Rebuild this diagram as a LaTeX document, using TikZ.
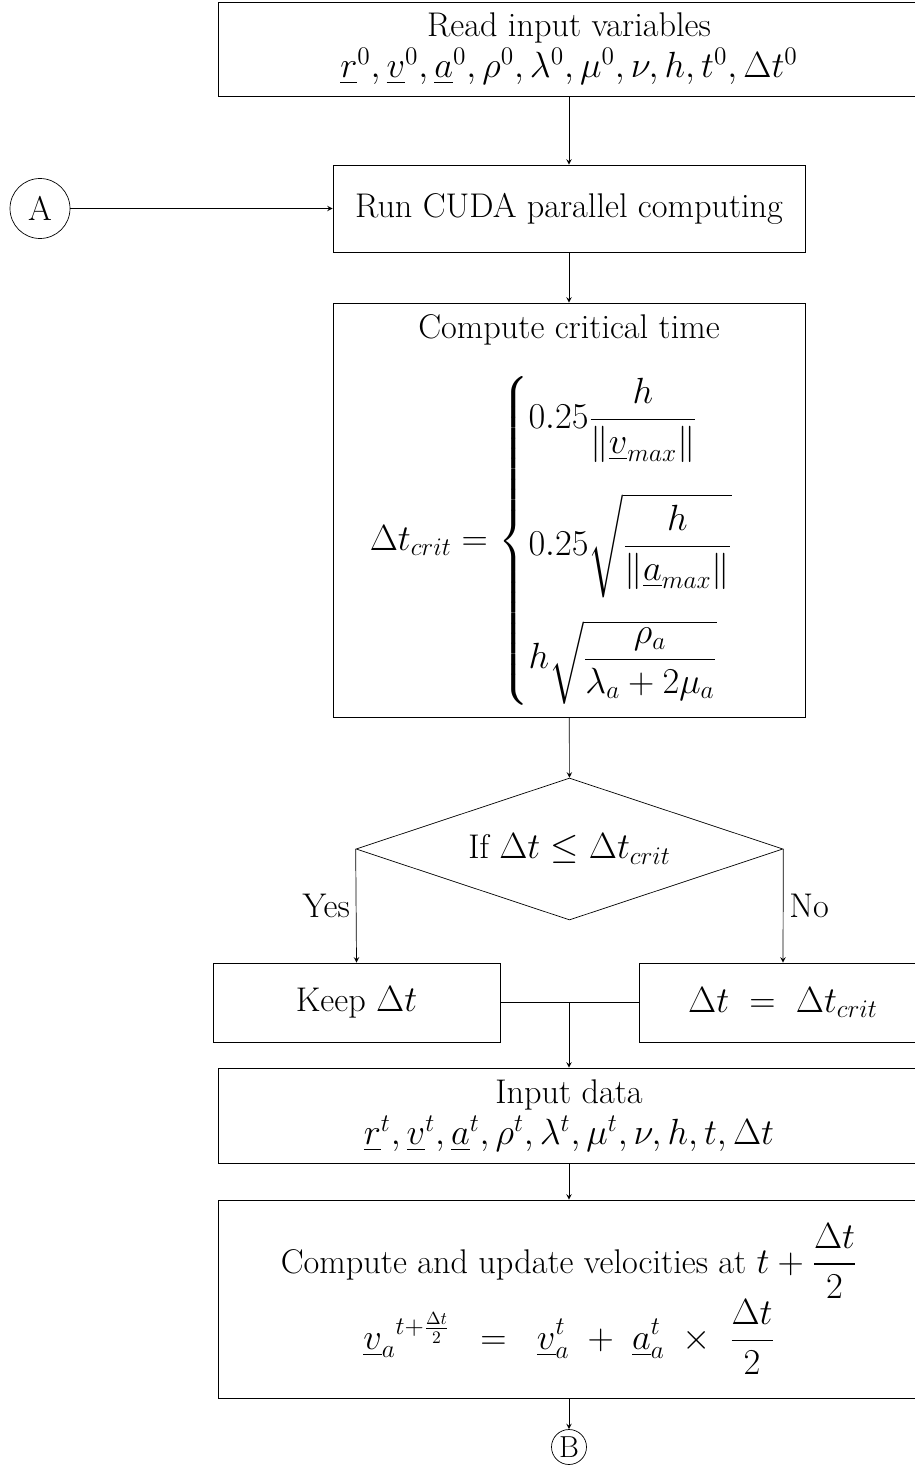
\documentclass[tikz,border=0pt]{standalone}
\usepackage{amsmath,amssymb}
\usepackage{tikz}
\usetikzlibrary{shapes.geometric,arrows}

\begin{document}
\begin{tikzpicture}[x=.02cm,y=-.02cm,font={\fontsize{19.5}{23.5}\selectfont},>=stealth,
  box/.style={draw,rectangle,align=center,inner sep=0pt},
  conn/.style={draw,circle,inner sep=1pt}]
\path[use as bounding box,clip] (0,0) rectangle (915,1477);
\node[box,minimum width=14.04cm,minimum height=1.88cm] (read) at (569,49)
  {Read input variables\\ $\underline{r}^0,\underline{v}^0,\underline{a}^0,\rho^0,\lambda^0,\mu^0,\nu,h,t^0,\Delta t^0$};
\node[box,minimum width=9.44cm,minimum height=1.74cm] (run) at (569,208.5) {Run CUDA parallel computing};
\node[conn,minimum size=1.2cm] (A) at (40,208.5) {A};
\node[box,minimum width=9.44cm,minimum height=8.28cm] (crit) at (569,510)
  {Compute critical time\\[.6cm]
  $\displaystyle \Delta t_{crit}=\begin{cases}
  0.25\dfrac{h}{\|\underline{v}_{max}\|}\\[1cm]
  0.25\sqrt{\dfrac{h}{\|\underline{a}_{max}\|}}\\[1cm]
  h\sqrt{\dfrac{\rho_a}{\lambda_a+2\mu_a}}
  \end{cases}$};
\node[draw,diamond,aspect=3,inner sep=0pt,minimum width=8.54cm,minimum height=2.84cm] (test) at (569.5,849)
  {If $\Delta t\leq\Delta t_{crit}$};
\node[box,minimum width=5.74cm,minimum height=1.58cm] (keep) at (356.5,1002.5) {Keep $\Delta t$};
\node[box,minimum width=5.76cm,minimum height=1.58cm] (newdt) at (783,1002.5) {$\Delta t\;=\;\Delta t_{crit}$};
\node[box,minimum width=14.04cm,minimum height=1.9cm] (input) at (569,1115.5)
  {Input data\\ $\underline{r}^t,\underline{v}^t,\underline{a}^t,\rho^t,\lambda^t,\mu^t,\nu,h,t,\Delta t$};
\node[box,minimum width=14.04cm,minimum height=3.96cm] (update) at (569,1299)
  {Compute and update velocities at $t+\dfrac{\Delta t}{2}$\\
  $\displaystyle {\underline{v}_a}^{t+\frac{\Delta t}{2}}\;\;=\;\;\underline{v}_a^t\;+\;\underline{a}_a^t\;\times\;\frac{\Delta t}{2}$};
\node[conn,font=\LARGE,minimum size=.7cm,inner sep=.5pt] (B) at (569,1447) {B};
\coordinate (join) at (569,1002.5);
\draw[->] (read) -- (run);
\draw[->] (A) -- (run);
\draw[->] (run) -- (crit);
\draw[->] (crit) -- (test);
\draw[->] (test.west) -- node[left]{Yes} (keep.north);
\draw[->] (test.east) -- node[right]{No} (newdt.north);
\draw (keep) -- (newdt);
\draw[->] (join) -- (input);
\draw[->] (input) -- (update);
\draw[->] (update) -- (B);
\end{tikzpicture}
\end{document}
